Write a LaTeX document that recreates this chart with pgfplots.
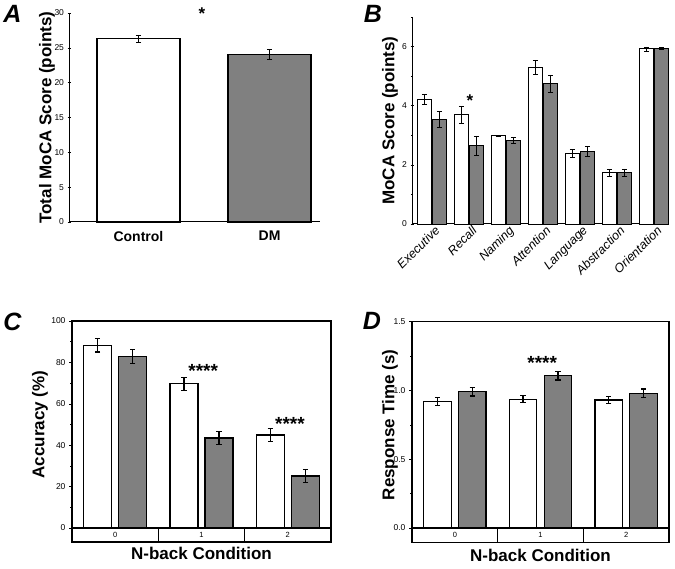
\documentclass[border=0pt]{standalone}
\usepackage{pgfplots}
\pgfplotsset{compat=1.18}
\usepackage{fontspec}
\setmainfont{Liberation Sans}
\definecolor{barg}{RGB}{128,128,128}
\pgfplotsset{
  mystyle/.style={
    scale only axis,
    clip=false,
    /pgf/number format/assume math mode=true,
    tick align=outside,
    major tick length=3pt,
    minor tick length=2pt,
    tick style={black, line width=0.6pt},
    axis line style={line width=1pt},
    ticklabel style={font=\fontsize{8.5}{9}\selectfont},
    label style={font=\bfseries\fontsize{17}{19}\selectfont},
  },
  wbar/.style={ybar, bar shift=0pt, fill=white, draw=black, line width=1.2pt},
  gbar/.style={ybar, bar shift=0pt, fill=barg, draw=black, line width=1.2pt},
  eb/.style={error bars/y dir=both, error bars/y explicit,
    error bars/error bar style={line width=#1, black},
    error bars/error mark options={rotate=90, mark size=2.6pt, line width=#1, black}},
}
\begin{document}
\begin{tikzpicture}
\useasboundingbox (0pt,0pt) rectangle (675pt,568pt);
% Panel letters
\node[font=\bfseries\itshape\fontsize{25}{27}\selectfont] at (12.5pt,554pt) {A};
\node[font=\bfseries\itshape\fontsize{25}{27}\selectfont] at (373pt,554pt) {B};
\node[font=\bfseries\itshape\fontsize{25}{27}\selectfont] at (12.5pt,246.5pt) {C};
\node[font=\bfseries\itshape\fontsize{25}{27}\selectfont] at (372pt,247.5pt) {D};

% ---------------- Panel A
\begin{axis}[mystyle, at={(69pt,346pt)}, anchor=south west, width=251pt, height=209pt,
  ymin=0, ymax=30, xmin=0.47, xmax=2.385,
  axis x line=bottom, axis y line=left, axis line style={-},
  ytick={0,5,...,30}, xtick={1,2}, xticklabels={Control,DM},
  xticklabel style={font=\bfseries\fontsize{14}{16}\selectfont, yshift=-4pt},
  x tick style={draw=none},
  ylabel={Total MoCA Score (points)},
  ylabel style={at={(axis description cs:-0.0876,0.5)}, anchor=center},
  bar width=0.634]
\addplot[wbar, eb=0.8pt] coordinates {(1,26.35) +- (0,0.5)};
\addplot[gbar, eb=0.8pt] coordinates {(2,24.05) +- (0,0.7)};
\node[anchor=base, font=\bfseries\fontsize{17}{19}\selectfont] at (axis cs:1.485,29.0) {*};
\end{axis}

% ---------------- Panel B
\begin{axis}[mystyle, at={(412pt,344pt)}, anchor=south west, width=256pt, height=207pt,
  ymin=0, ymax=7, xmin=-0.54, xmax=6.38,
  axis x line=bottom, axis y line=left, axis line style={-},
  ytick={0,2,4,6}, minor ytick={1,3,5,7},
  xtick={0,...,6},
  xticklabels={Executive,Recall,Naming,Attention,Language,Abstraction,Orientation},
  xticklabel style={rotate=45, anchor=north east, inner sep=1pt,
    font=\itshape\fontsize{12.5}{14}\selectfont, xshift=3pt},
  x tick style={draw=none},
  ylabel={MoCA Score (points)},
  ylabel style={at={(axis description cs:-0.086,0.5)}, anchor=center},
  bar width=0.378]
% control (white) bars at category - 0.203
\addplot[wbar, line width=0.9pt, eb=0.7pt] coordinates {
  (-0.203,4.22) +- (0,0.17)
  (0.797,3.70) +- (0,0.29)
  (1.797,2.98) +- (0,0.0)
  (2.797,5.29) +- (0,0.24)
  (3.797,2.39) +- (0,0.12)
  (4.797,1.73) +- (0,0.12)
  (5.797,5.92) +- (0,0.07)
};
% DM (grey) bars at category + 0.203
\addplot[gbar, line width=0.9pt, eb=0.7pt] coordinates {
  (0.203,3.54) +- (0,0.28)
  (1.203,2.65) +- (0,0.33)
  (2.203,2.83) +- (0,0.10)
  (3.203,4.74) +- (0,0.30)
  (4.203,2.45) +- (0,0.16)
  (5.203,1.74) +- (0,0.12)
  (6.203,5.93) +- (0,0.04)
};
\node[anchor=base, font=\bfseries\fontsize{17}{19}\selectfont] at (axis cs:1.027,3.97) {*};
\end{axis}

% ---------------- Panel C
\begin{axis}[mystyle, at={(72pt,40pt)}, anchor=south west, width=259pt, height=207pt,
  ymin=0, ymax=100, xmin=-0.5, xmax=2.5,
  axis line style={line width=1.1pt},
  ytick={0,20,...,100}, minor ytick={10,30,...,90}, ytick pos=left,
  xtick={0,1,2}, x tick style={draw=none},
  xticklabel style={anchor=center, yshift=-4pt, font=\fontsize{7.5}{8}\selectfont},
  xlabel={N-back Condition},
  xlabel style={at={(axis description cs:0.5,-0.121)}, anchor=center},
  ylabel={Accuracy (\%)},
  ylabel style={at={(axis description cs:-0.1236,0.5)}, anchor=center},
  bar width=0.325]
\draw[line width=1.1pt] (rel axis cs:0,0) rectangle (rel axis cs:1,-0.0676);
\draw[line width=1pt] (axis cs:0.5,0) -- (axis cs:0.5,-6.76);
\draw[line width=1pt] (axis cs:1.5,0) -- (axis cs:1.5,-6.76);
\addplot[wbar, eb=1.2pt] coordinates {
  (-0.2035,88.2) +- (0,3.2)
  (0.7965,69.7) +- (0,3.1)
  (1.7965,44.9) +- (0,3.0)
};
\addplot[gbar, eb=1.2pt] coordinates {
  (0.2035,82.9) +- (0,3.3)
  (1.2035,43.5) +- (0,3.3)
  (2.2035,25.1) +- (0,3.2)
};
\node[anchor=base, font=\bfseries\fontsize{19}{20}\selectfont] at (axis cs:1.02,72.6) {****};
\node[anchor=base, font=\bfseries\fontsize{19}{20}\selectfont] at (axis cs:2.025,46.9) {****};
\end{axis}

% ---------------- Panel D
\begin{axis}[mystyle, at={(412pt,40pt)}, anchor=south west, width=257pt, height=206.3pt,
  ymin=0, ymax=1.5, xmin=-0.5, xmax=2.5,
  axis line style={line width=1.1pt},
  ytick={0,0.5,1,1.5}, minor ytick={0.25,0.75,1.25}, ytick pos=left,
  yticklabel style={/pgf/number format/.cd, fixed, fixed zerofill, precision=1},
  xtick={0,1,2}, x tick style={draw=none},
  xticklabel style={anchor=center, yshift=-4pt, font=\fontsize{7.5}{8}\selectfont},
  xlabel={N-back Condition},
  xlabel style={at={(axis description cs:0.5,-0.131)}, anchor=center},
  ylabel={Response Time (s)},
  ylabel style={at={(axis description cs:-0.0856,0.5)}, anchor=center},
  bar width=0.32]
\draw[line width=1.1pt] (rel axis cs:0,0) rectangle (rel axis cs:1,-0.071);
\draw[line width=1pt] (axis cs:0.5,0) -- (axis cs:0.5,-0.1065);
\draw[line width=1pt] (axis cs:1.5,0) -- (axis cs:1.5,-0.1065);
\addplot[wbar, eb=1.2pt] coordinates {
  (-0.2035,0.919) +- (0,0.029)
  (0.7965,0.936) +- (0,0.025)
  (1.7965,0.931) +- (0,0.025)
};
\addplot[gbar, eb=1.2pt] coordinates {
  (0.2035,0.990) +- (0,0.030)
  (1.2035,1.106) +- (0,0.030)
  (2.2035,0.980) +- (0,0.030)
};
\node[anchor=base, font=\bfseries\fontsize{19}{20}\selectfont] at (axis cs:1.02,1.149) {****};
\end{axis}
\end{tikzpicture}
\end{document}
